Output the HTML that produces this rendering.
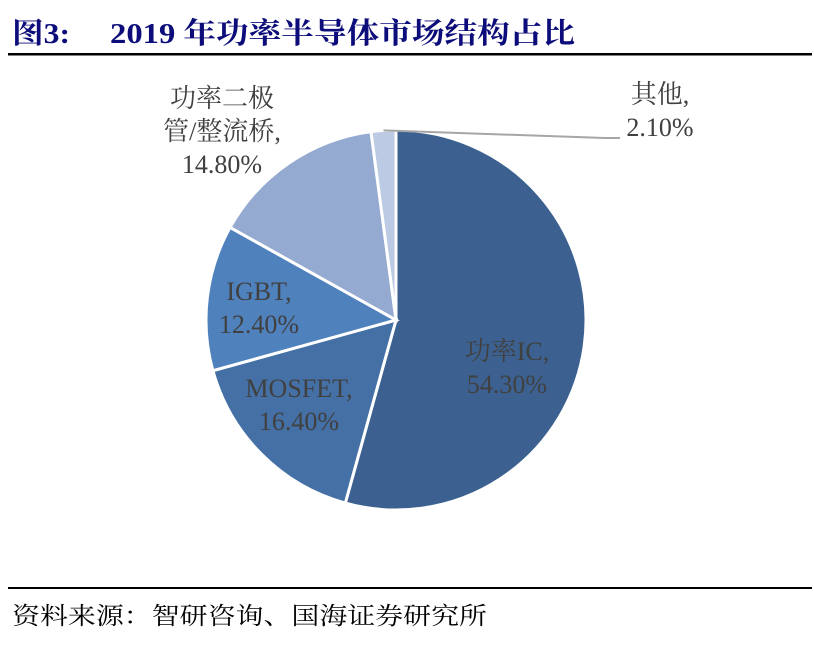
<!DOCTYPE html>
<html><head><meta charset="utf-8"><style>
body{margin:0;width:814px;height:645px;background:#fff;overflow:hidden;font-family:"Liberation Serif","Noto Serif CJK SC",serif}
</style></head><body>
<svg width="814" height="645">
<text x="12" y="43" font-size="29" font-weight="bold" fill="#0c0c7a"><tspan textLength="58" lengthAdjust="spacingAndGlyphs">图3:</tspan><tspan x="110" textLength="465" lengthAdjust="spacingAndGlyphs">2019 年功率半导体市场结构占比</tspan></text>
<rect x="8" y="53" width="804" height="2.5" fill="#000"/>
<g id="pie"></g>
<g id="labels"></g>
<rect x="8" y="587" width="804" height="2" fill="#000"/>
<text x="12" y="624" font-size="24" fill="#000" textLength="475" lengthAdjust="spacingAndGlyphs">资料来源：智研咨询、国海证券研究所</text>
</svg>
<script>
const categories=["功率IC","MOSFET","IGBT","功率二极管/整流桥","其他"];
const values=[54.3,16.4,12.4,14.8,2.1];
const valueLabels=["54.30%","16.40%","12.40%","14.80%","2.10%"];
const colors=["#3c6190","#4470a6","#4f81bd","#95aad1","#bccbe3"];
const cx=396,cy=320,r=190;
const NS="http://www.w3.org/2000/svg";
const pie=document.getElementById('pie');
const total=values.reduce((a,b)=>a+b,0);
function pt(a,rr){return [cx+rr*Math.sin(a),cy-rr*Math.cos(a)];}
let acc=0;const mids=[];
values.forEach((v,i)=>{
 const a0=acc/total*2*Math.PI;acc+=v;const a1=acc/total*2*Math.PI;
 mids.push((a0+a1)/2);
 const p0=pt(a0,r),p1=pt(a1,r);
 const path=document.createElementNS(NS,'path');
 path.setAttribute('d',`M${cx},${cy}L${p0[0]},${p0[1]}A${r},${r} 0 ${a1-a0>Math.PI?1:0} 1 ${p1[0]},${p1[1]}Z`);
 path.setAttribute('fill',colors[i]);path.setAttribute('stroke','#fff');path.setAttribute('stroke-width','3');
 
 
 pie.appendChild(path);
});
const L=document.getElementById('labels');
function txt(lines,x,y){
 const t=document.createElementNS(NS,'text');
 t.setAttribute('x',x);t.setAttribute('y',y);t.setAttribute('font-size','26');t.setAttribute('fill','#404040');t.setAttribute('text-anchor','middle');
 lines.forEach((s,k)=>{const ts=document.createElementNS(NS,'tspan');ts.setAttribute('x',x);ts.setAttribute('dy',k?33:0);ts.textContent=s;t.appendChild(ts);});
 
 
 L.appendChild(t);
}
txt([categories[0]+",",valueLabels[0]],507,360);
txt([categories[1]+",",valueLabels[1]],299,397);
txt([categories[2]+",",valueLabels[2]],259,300);
txt(["功率二极","管/整流桥,",valueLabels[3]],222,107);
txt([categories[4]+",",valueLabels[4]],660,103);
const ln=document.createElementNS(NS,'polyline');
const e=pt(mids[4],r);
ln.setAttribute('points',`${e[0]},${e[1]} 605,138 620,138`);
ln.setAttribute('fill','none');ln.setAttribute('stroke','#a6a6a6');ln.setAttribute('stroke-width','2');


L.appendChild(ln);
</script>
</body></html>
